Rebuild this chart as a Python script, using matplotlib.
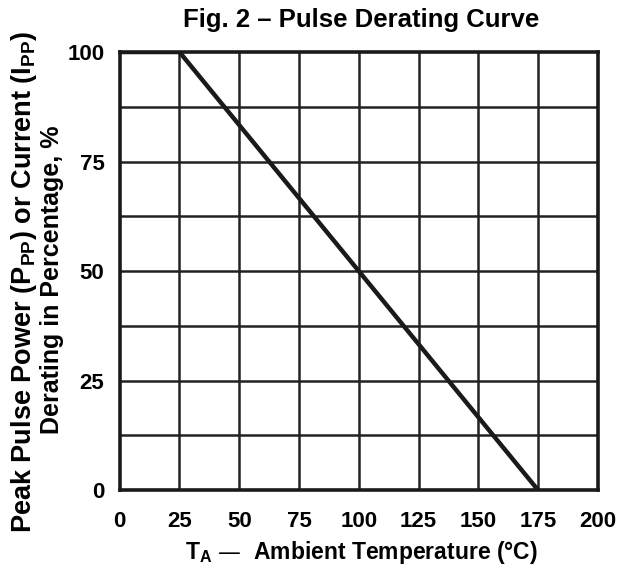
import matplotlib
matplotlib.use("Agg")
import matplotlib.pyplot as plt

# Data
temp_c = [0, 25, 175]
derating_pct = [100, 100, 0]
x_ticks = [0, 25, 50, 75, 100, 125, 150, 175, 200]
y_ticks = [0, 25, 50, 75, 100]
y_grid = [12.5, 37.5, 62.5, 87.5]

fam = ['Liberation Sans', 'DejaVu Sans']
plt.rcParams['font.family'] = fam
plt.rcParams['font.weight'] = 'bold'
plt.rcParams['mathtext.default'] = 'regular'

fig = plt.figure(figsize=(6.3, 5.78), dpi=100)
ax = fig.add_axes([0.190, 0.152, 0.759, 0.758])
ax.set_xlim(0, 200)
ax.set_ylim(0, 100)

for x in x_ticks[1:-1]:
    ax.axvline(x, color='#222222', lw=1.8, zorder=1)
for y in y_ticks[1:-1] + y_grid:
    ax.axhline(y, color='#222222', lw=1.8, zorder=1)

ax.plot(temp_c, derating_pct, color='#1a1a1a', lw=3.2, zorder=3, solid_capstyle='butt')

for s in ax.spines.values():
    s.set_linewidth(2.6)
    s.set_color('#1a1a1a')

ax.set_xticks(x_ticks)
ax.set_yticks(y_ticks)
ax.tick_params(length=0, labelsize=16)
ax.tick_params(axis='x', pad=15)
ax.tick_params(axis='y', pad=11)
for lab in ax.get_xticklabels() + ax.get_yticklabels():
    lab.set_fontweight('bold')

fig.text(0.573, 1 - 20 / 578, 'Fig. 2 – Pulse Derating Curve', fontsize=18.5,
         fontweight='bold', ha='center', va='center')
fig.text(0.573, 1 - 553 / 578, 'T$_{A}$ —  Ambient Temperature (°C)', fontsize=16.5,
         fontweight='bold', ha='center', va='center')
fig.text(24 / 630, 1 - 282 / 578, 'Peak Pulse Power (P$_{PP}$) or Current (I$_{PP}$)',
         fontsize=19.5, fontweight='bold', rotation=90, ha='center', va='center')
fig.text(52 / 630, 1 - 280 / 578, 'Derating in Percentage, %',
         fontsize=18, fontweight='bold', rotation=90, ha='center', va='center')

fig.savefig('out.png', dpi=100, facecolor='white')
